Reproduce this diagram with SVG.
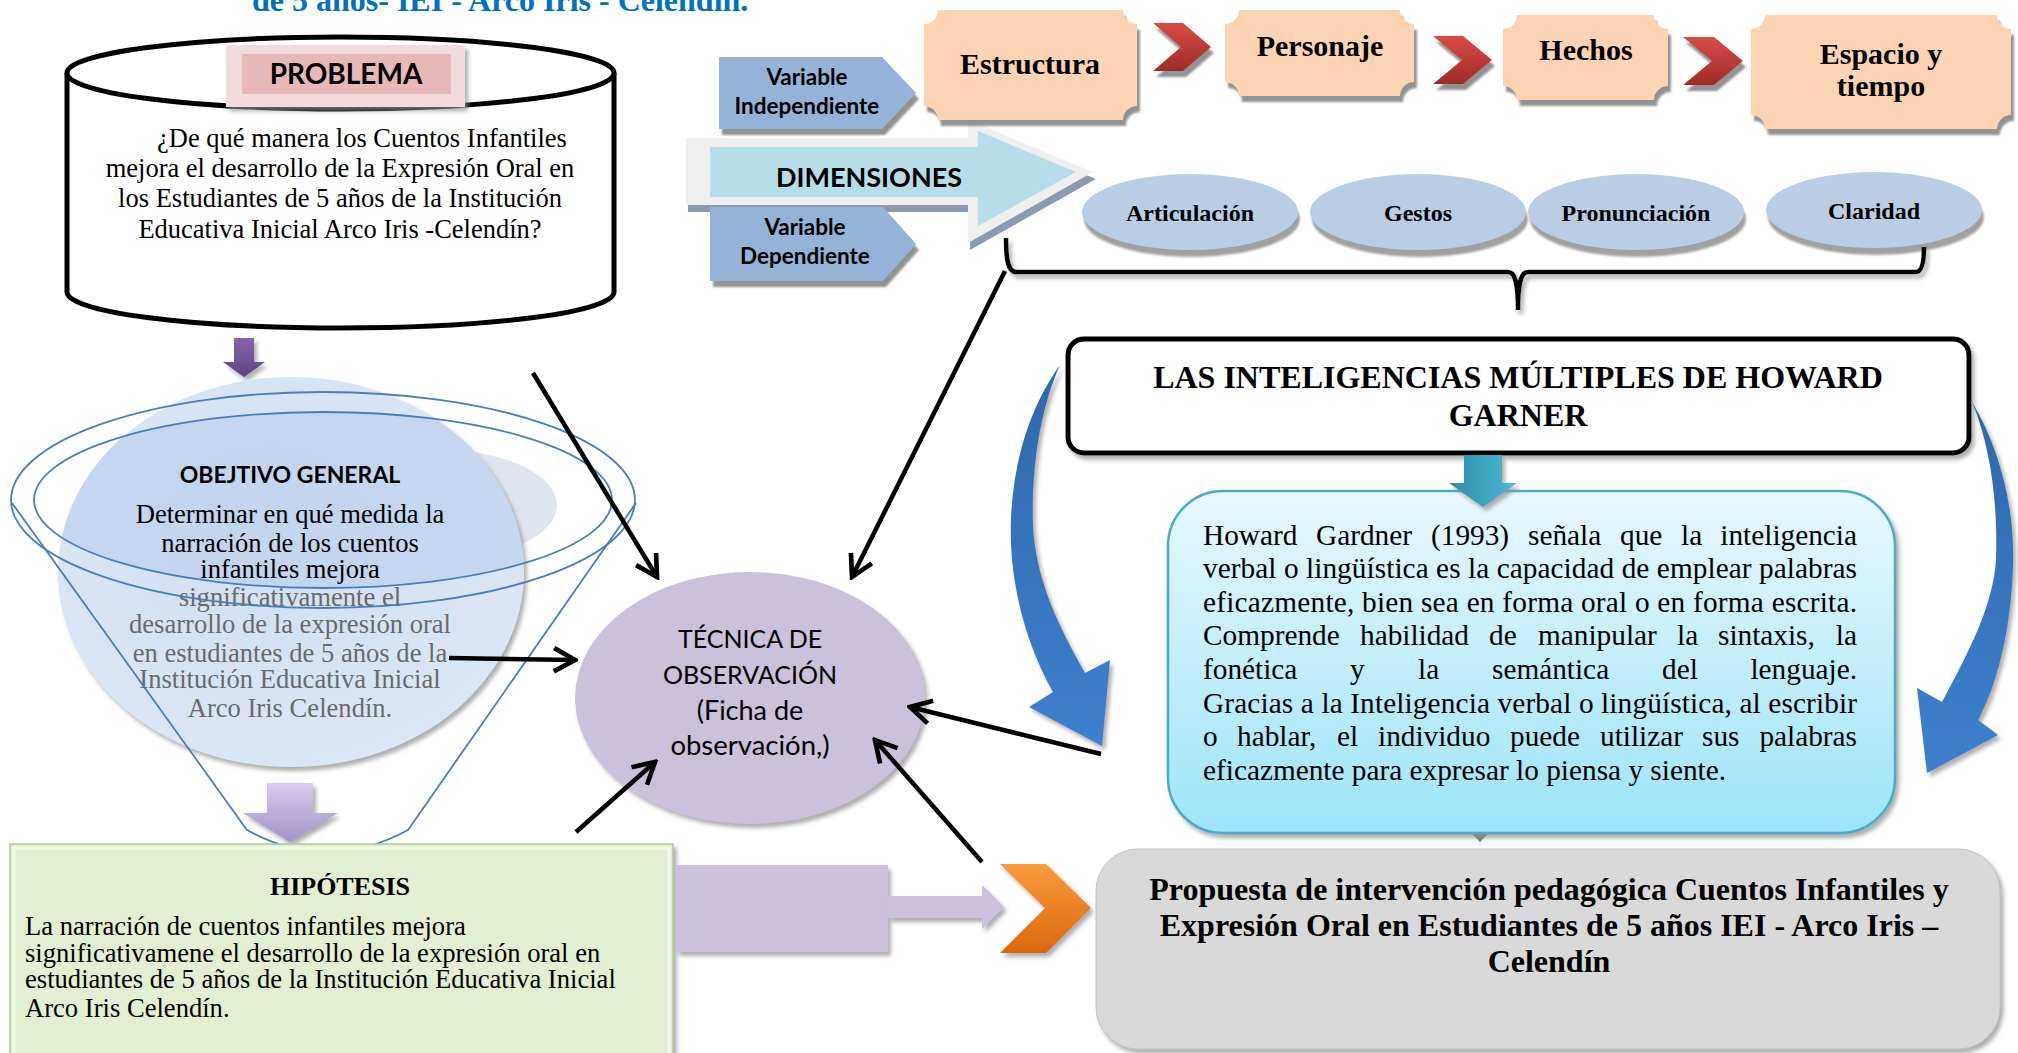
<svg xmlns="http://www.w3.org/2000/svg" width="2018" height="1053" viewBox="0 0 2018 1053">
<defs>
<style>
.tnr{font-family:"Liberation Serif","Times New Roman",serif;}
.cal{font-family:Lato,"Liberation Sans",sans-serif;}
.b{font-weight:bold;}
.c{text-anchor:middle;}
.e{text-anchor:end;}
.conn{stroke:#000;stroke-width:4.5;fill:none;marker-end:url(#ah);}
.ring{fill:none;stroke:#4A7EBB;stroke-width:1.8;}
.plaque{fill:#FBD4B4;filter:url(#sh);}
.chev{fill:url(#gRed);filter:url(#sh);}
.dim{fill:#B9CDE5;filter:url(#sh2);}
.varb{fill:#95B3D7;filter:url(#sh);}
</style>
<filter id="sh" x="-10%" y="-10%" width="130%" height="140%">
<feDropShadow dx="3" dy="6" stdDeviation="1.2" flood-color="#7f7f7f" flood-opacity="0.85"/>
</filter>
<filter id="sh2" x="-10%" y="-10%" width="130%" height="140%">
<feDropShadow dx="2" dy="7" stdDeviation="1" flood-color="#a0a0a0" flood-opacity="1"/>
</filter>
<filter id="sh3" x="-10%" y="-10%" width="130%" height="140%">
<feDropShadow dx="3" dy="4" stdDeviation="2" flood-color="#8c8c8c" flood-opacity="0.7"/>
</filter>
<linearGradient id="gRed" x1="0" y1="0" x2="0" y2="1"><stop offset="0" stop-color="#D94B48"/><stop offset="1" stop-color="#9E2B29"/></linearGradient>
<linearGradient id="gOr" x1="0" y1="0" x2="0" y2="1"><stop offset="0" stop-color="#FA9B3B"/><stop offset="1" stop-color="#D9680F"/></linearGradient>
<linearGradient id="gBlue" x1="0" y1="0" x2="0" y2="1"><stop offset="0" stop-color="#2F68AA"/><stop offset="1" stop-color="#3E80CE"/></linearGradient>
<linearGradient id="gTeal" x1="0" y1="0" x2="1" y2="0"><stop offset="0" stop-color="#2B8DA8"/><stop offset="1" stop-color="#4FB8D3"/></linearGradient>
<linearGradient id="gBox" x1="0" y1="0" x2="0" y2="1"><stop offset="0" stop-color="#E8F8FD"/><stop offset="1" stop-color="#9DE4F9"/></linearGradient>
<linearGradient id="gPur" x1="0" y1="0" x2="0" y2="1"><stop offset="0" stop-color="#8466AA"/><stop offset="1" stop-color="#5E4580"/></linearGradient>
<linearGradient id="gLav" x1="0" y1="0" x2="0" y2="1"><stop offset="0" stop-color="#D8CBEC"/><stop offset="1" stop-color="#A391C8"/></linearGradient>
<radialGradient id="gCirc" cx="45%" cy="40%" r="62%"><stop offset="0" stop-color="#CFDFF3"/><stop offset="1" stop-color="#DCE7F5"/></radialGradient>
<clipPath id="cpCirc"><ellipse cx="291" cy="572" rx="233" ry="195"/></clipPath>
<marker id="ah" markerUnits="userSpaceOnUse" viewBox="0 0 24 24" markerWidth="28" markerHeight="28" refX="21" refY="12" orient="auto">
<path d="M3,2 L21,12 L3,22" fill="none" stroke="#000" stroke-width="4"/>
</marker>
</defs>
<rect width="2018" height="1053" fill="#fff"/>

<g id="title">
<text class="tnr b" x="252" y="11" font-size="32" fill="#0070C0">de 5 años- IEI - Arco Iris - Celendín.</text>
</g>

<g id="problema">
<path d="M67,73 V292 A273.5,36 0 0 0 614,292 V73" fill="#fff" stroke="#000" stroke-width="5"/>
<ellipse cx="340.5" cy="73" rx="273.5" ry="36" fill="#fff" stroke="#000" stroke-width="5"/>
<rect x="226" y="45" width="239" height="62" fill="#F2DCDB" filter="url(#sh3)"/>
<rect x="242" y="54" width="209" height="40" fill="#E6B9B8"/>
<text class="cal b c" x="346" y="84" font-size="28">PROBLEMA</text>
<text class="tnr" font-size="26.5" x="157" y="147">¿De qué manera los Cuentos Infantiles</text>
<text class="tnr c" font-size="26.5" x="340" y="177">mejora el desarrollo de la Expresión Oral en</text>
<text class="tnr c" font-size="26.5" x="340" y="207">los Estudiantes de 5 años de la Institución</text>
<text class="tnr c" font-size="26.5" x="340" y="238">Educativa Inicial Arco Iris -Celendín?</text>
</g>

<g id="flecha-problema-objetivo">
<polygon points="234,338 254,338 254,362 265,362 244,377 223,362 234,362" fill="url(#gPur)" filter="url(#sh3)"/>
</g>

<g id="objetivo">
<ellipse cx="440" cy="505" rx="117" ry="55" fill="#DFE5EF"/>
<ellipse cx="291" cy="572" rx="233" ry="195" fill="url(#gCirc)" filter="url(#sh3)"/>
<ellipse cx="323" cy="500" rx="289" ry="88" fill="#BCD2EE" opacity="0.7" clip-path="url(#cpCirc)"/>
<text class="cal b c" x="290" y="483" font-size="23">OBEJTIVO GENERAL</text>
<g class="tnr c" font-size="26.6">
<text x="290" y="523">Determinar en qué medida la</text>
<text x="290" y="552">narración de los cuentos</text>
<text x="290" y="578">infantiles mejora</text>
<g fill="#6A6A6A">
<text x="290" y="606">significativamente el</text>
<text x="290" y="633">desarrollo de la expresión oral</text>
<text x="290" y="662">en estudiantes de 5 años de la</text>
<text x="290" y="688">Institución Educativa Inicial</text>
<text x="290" y="717">Arco Iris Celendín.</text>
</g>
</g>
<ellipse class="ring" cx="323" cy="500" rx="312" ry="108"/>
<ellipse class="ring" cx="323" cy="500" rx="289" ry="88"/>
<path class="ring" d="M12,503 L247,830 Q327,874 408,830 L636,503"/>
<polygon points="267,783 313,783 313,813 338,813 290,842 243,813 267,813" fill="url(#gLav)" filter="url(#sh3)"/>
</g>

<g id="hipotesis">
<rect x="10" y="844" width="663" height="215" fill="#E3EFD1" stroke="#B5C994" stroke-width="1.5" filter="url(#sh3)"/>
<rect x="14" y="848" width="655" height="207" fill="none" stroke="#F3F9EA" stroke-width="3"/>
<text class="tnr b c" x="340" y="895" font-size="26">HIPÓTESIS</text>
<g class="tnr" font-size="26.6">
<text x="25" y="935">La narración de cuentos infantiles mejora</text>
<text x="25" y="962">significativamene el desarrollo de la expresión oral en</text>
<text x="25" y="988">estudiantes de 5 años de la Institución Educativa Inicial</text>
<text x="25" y="1017">Arco Iris Celendín.</text>
</g>
</g>

<g id="flecha-hipotesis-propuesta">
<rect x="676" y="865" width="212" height="87" fill="#CCC0DA" filter="url(#sh3)"/>
<polygon points="888,896 982,896 982,885 1004,907 982,929 982,918 888,918" fill="#CCC0DA" filter="url(#sh3)"/>
<polygon points="1000,864 1046,864 1091,908 1046,953 1000,953 1045,908" fill="url(#gOr)" filter="url(#sh3)"/>
</g>

<g id="tecnica">
<ellipse cx="750" cy="698" rx="175" ry="126" fill="#CCC1DA" filter="url(#sh3)"/>
<g class="cal c">
<text x="750" y="648" font-size="25">TÉCNICA DE</text>
<text x="750" y="684" font-size="25">OBSERVACIÓN</text>
<text x="750" y="720" font-size="27">(Ficha de</text>
<text x="750" y="755" font-size="27.5">observación,)</text>
</g>
</g>

<g id="variable-independiente">
<polygon class="varb" points="719,57 882,57 916,93 882,129 719,129"/>
<text class="cal b c" x="807" y="85" font-size="22.5">Variable</text>
<text class="cal b c" x="807" y="114" font-size="22.5">Independiente</text>
</g>

<g id="dimensiones">
<path d="M688,145 H970 V127 L1096,179 L970,250 V212 H688 Z" fill="#8C9AAE"/>
<path d="M686,138 H968 V120 L1093,172 L968,243 V205 H686 Z" fill="#EFEFEF"/>
<path d="M710,147 H978 V131 L1076,172 L978,226 V197 H710 Z" fill="#B7DDE8"/>
<text class="cal b c" x="869" y="187" font-size="27">DIMENSIONES</text>
</g>

<g id="variable-dependiente">
<polygon class="varb" points="710,207 883,207 916,244 883,281 710,281"/>
<text class="cal b c" x="805" y="235" font-size="22.5">Variable</text>
<text class="cal b c" x="805" y="264" font-size="22.5">Dependiente</text>
</g>

<g id="estructura">
<path class="plaque" d="M938,10 H1123 A14,14 0 0 0 1137,24 V106 A14,14 0 0 0 1123,120 H938 A14,14 0 0 0 924,106 V24 A14,14 0 0 0 938,10 Z"/>
<text class="tnr b c" x="1030" y="74" font-size="30">Estructura</text>
</g>
<g id="personaje">
<path class="plaque" d="M1239,10 H1400 A14,14 0 0 0 1414,24 V82 A14,14 0 0 0 1400,96 H1239 A14,14 0 0 0 1225,82 V24 A14,14 0 0 0 1239,10 Z"/>
<text class="tnr b c" x="1320" y="56" font-size="30">Personaje</text>
</g>
<g id="hechos">
<path class="plaque" d="M1517,15 H1654 A14,14 0 0 0 1668,29 V86 A14,14 0 0 0 1654,100 H1517 A14,14 0 0 0 1503,86 V29 A14,14 0 0 0 1517,15 Z"/>
<text class="tnr b c" x="1586" y="60" font-size="30">Hechos</text>
</g>
<g id="espacio-tiempo">
<path class="plaque" d="M1765,15 H1997 A14,14 0 0 0 2011,29 V115 A14,14 0 0 0 1997,129 H1765 A14,14 0 0 0 1751,115 V29 A14,14 0 0 0 1765,15 Z"/>
<text class="tnr b c" x="1881" y="64" font-size="30">Espacio y</text>
<text class="tnr b c" x="1881" y="96" font-size="30">tiempo</text>
</g>
<g id="chevrones">
<polygon class="chev" points="1153,23 1183,23 1211,47 1183,71 1153,71 1181,47"/>
<polygon class="chev" points="1433,36 1463,36 1492,60 1463,84 1433,84 1462,60"/>
<polygon class="chev" points="1683,37 1714,37 1743,61 1714,85 1683,85 1712,61"/>
</g>

<g id="articulacion"><ellipse class="dim" cx="1190" cy="212" rx="108" ry="38"/><text class="tnr b c" x="1190" y="221" font-size="24">Articulación</text></g>
<g id="gestos"><ellipse class="dim" cx="1418" cy="212" rx="108" ry="38"/><text class="tnr b c" x="1418" y="221" font-size="24">Gestos</text></g>
<g id="pronunciacion"><ellipse class="dim" cx="1636" cy="212" rx="108" ry="38"/><text class="tnr b c" x="1636" y="221" font-size="24">Pronunciación</text></g>
<g id="claridad"><ellipse class="dim" cx="1874" cy="210" rx="108" ry="38"/><text class="tnr b c" x="1874" y="219" font-size="24">Claridad</text></g>

<g id="llave">
<path d="M1006,238 C1006,256 1007,272 1016,272 H1508 C1515,272 1518,282 1518,310 C1518,282 1521,272 1528,272 H1916 C1922,272 1924,262 1924,247" fill="none" stroke="#000" stroke-width="4.5" filter="url(#sh3)"/>
</g>

<g id="gardner-titulo">
<rect x="1068" y="339" width="901" height="114" rx="16" fill="#fff" stroke="#000" stroke-width="5" filter="url(#sh3)"/>
<text class="tnr b c" x="1518" y="388" font-size="32">LAS INTELIGENCIAS MÚLTIPLES DE HOWARD</text>
<text class="tnr b c" x="1518" y="426" font-size="32">GARNER</text>
</g>

<g id="flechas-curvas">
<path d="M1060,365 C1022,418 1006,490 1012,560 C1018,620 1038,665 1053,692 L1029,707 L1102,746 L1110,660 L1085,673 C1058,625 1036,580 1033,527 C1031,460 1042,405 1060,365 Z" fill="url(#gBlue)" filter="url(#sh3)"/>
<path d="M1972,402 C1998,445 2015,505 2013,565 C2011,630 1997,685 1978,720 L1998,735 L1927,773 L1917,688 L1942,702 C1970,650 1993,605 1996,560 C1998,500 1990,445 1972,402 Z" fill="url(#gBlue)" filter="url(#sh3)"/>
</g>

<g id="gardner-texto">
<polygon points="1470,832 1490,832 1480,842" fill="#808080"/>
<rect x="1168" y="491" width="727" height="342" rx="55" fill="url(#gBox)" stroke="#4BACC6" stroke-width="2.5" filter="url(#sh3)"/>
<polygon points="1464,455 1502,455 1502,483 1517,483 1483,507 1449,483 1464,483" fill="url(#gTeal)" filter="url(#sh3)"/>
<g class="tnr" font-size="29.3">
<text y="545"><tspan x="1203">Howard</tspan><tspan x="1316">Gardner</tspan><tspan x="1431">(1993)</tspan><tspan x="1528">señala</tspan><tspan x="1620">que</tspan><tspan x="1681">la</tspan></text>
<text class="e" x="1857" y="545">inteligencia</text>
<text x="1203" y="578" textLength="654">verbal o lingüística es la capacidad de emplear palabras</text>
<text x="1203" y="612" textLength="654">eficazmente, bien sea en forma oral o en forma escrita.</text>
<text y="645"><tspan x="1203">Comprende</tspan><tspan x="1360">habilidad</tspan><tspan x="1489">de</tspan><tspan x="1538">manipular</tspan><tspan x="1677">la</tspan><tspan x="1718">sintaxis,</tspan></text>
<text class="e" x="1857" y="645">la</text>
<text y="679"><tspan x="1203">fonética</tspan><tspan x="1350">y</tspan><tspan x="1418">la</tspan><tspan x="1492">semántica</tspan><tspan x="1662">del</tspan></text>
<text class="e" x="1857" y="679">lenguaje.</text>
<text x="1203" y="713" textLength="654">Gracias a la Inteligencia verbal o lingüística, al escribir</text>
<text y="746"><tspan x="1203">o</tspan><tspan x="1237">hablar,</tspan><tspan x="1337">el</tspan><tspan x="1378">individuo</tspan><tspan x="1510">puede</tspan><tspan x="1600">utilizar</tspan><tspan x="1702">sus</tspan></text>
<text class="e" x="1857" y="746">palabras</text>
<text x="1203" y="780">eficazmente para expresar lo piensa y siente.</text>
</g>
</g>

<g id="propuesta">
<rect x="1096" y="849" width="904" height="200" rx="42" fill="#D9D9D9" stroke="#C4C4C4" stroke-width="1" filter="url(#sh3)"/>
<g class="tnr b c" font-size="32">
<text x="1549" y="900">Propuesta de intervención pedagógica Cuentos Infantiles y</text>
<text x="1549" y="936">Expresión Oral en Estudiantes de 5 años IEI - Arco Iris –</text>
<text x="1549" y="972">Celendín</text>
</g>
</g>

<g id="conectores">
<line class="conn" x1="533" y1="373" x2="657" y2="577"/>
<line class="conn" x1="1005" y1="271" x2="852" y2="577"/>
<line class="conn" x1="449" y1="658" x2="575" y2="660"/>
<line class="conn" x1="576" y1="832" x2="655" y2="762"/>
<line class="conn" x1="1101" y1="754" x2="910" y2="707"/>
<line class="conn" x1="982" y1="862" x2="875" y2="740"/>
</g>
</svg>
